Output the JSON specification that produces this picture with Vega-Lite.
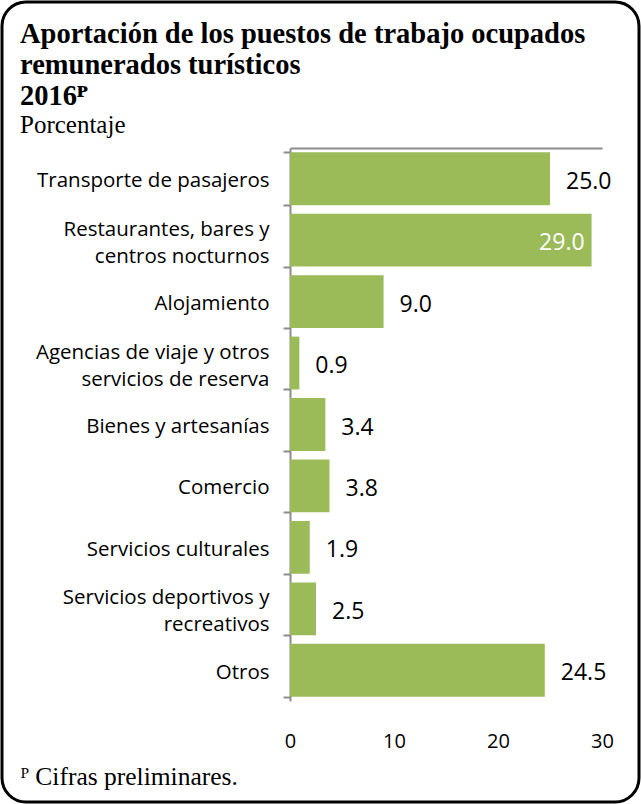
{
  "$schema": "https://vega.github.io/schema/vega-lite/v6.json",
  "width": 637,
  "height": 800,
  "padding": 2,
  "autosize": {"type": "none"},
  "background": "white",
  "title": {
    "text": ["Aportación de los puestos de trabajo ocupados", "remunerados turísticos", "2016ᴾ"],
    "subtitle": "Porcentaje",
    "anchor": "start",
    "frame": "group",
    "orient": "top",
    "offset": -146,
    "dx": 18,
    "font": "Liberation Serif",
    "fontSize": 28.5,
    "fontWeight": "bold",
    "lineHeight": 31,
    "color": "black",
    "subtitleFont": "Liberation Serif",
    "subtitleFontSize": 25,
    "subtitleColor": "black",
    "subtitlePadding": 3
  },
  "data": {
    "values": [
      {"cat": "Transporte de pasajeros", "value": 25.0},
      {"cat": "Restaurantes, bares y centros nocturnos", "value": 29.0},
      {"cat": "Alojamiento", "value": 9.0},
      {"cat": "Agencias de viaje y otros servicios de reserva", "value": 0.9},
      {"cat": "Bienes y artesanías", "value": 3.4},
      {"cat": "Comercio", "value": 3.8},
      {"cat": "Servicios culturales", "value": 1.9},
      {"cat": "Servicios deportivos y recreativos", "value": 2.5},
      {"cat": "Otros", "value": 24.5}
    ]
  },
  "encoding": {
    "y": {
      "field": "cat",
      "type": "nominal",
      "sort": null,
      "scale": {"range": [146, 699], "paddingInner": 0.14, "paddingOuter": 0.07},
      "axis": {
        "title": null,
        "offset": -288,
        "domainColor": "#8c8c8c",
        "domainWidth": 2,
        "tickBand": "extent",
        "tickColor": "#8c8c8c",
        "tickWidth": 2,
        "tickSize": 7,
        "labelPadding": 14,
        "labelFont": "Open Sans",
        "labelFontSize": 20.5,
        "labelColor": "black",
        "labelLineHeight": 27,
        "labelLimit": 300,
        "labelOffset": {"condition": {"test": "indexof(['Restaurantes, bares y centros nocturnos', 'Agencias de viaje y otros servicios de reserva', 'Servicios deportivos y recreativos'], datum.value) >= 0", "value": -11}, "value": 2},
        "labelExpr": "datum.value == 'Restaurantes, bares y centros nocturnos' ? ['Restaurantes, bares y', 'centros nocturnos'] : datum.value == 'Agencias de viaje y otros servicios de reserva' ? ['Agencias de viaje y otros', 'servicios de reserva'] : datum.value == 'Servicios deportivos y recreativos' ? ['Servicios deportivos y', 'recreativos'] : datum.value"
      }
    }
  },
  "layer": [
    {
      "mark": {"type": "bar", "color": "#9BBB59"},
      "encoding": {
        "x": {
          "field": "value",
          "type": "quantitative",
          "scale": {"domain": [0, 30], "range": [288, 600], "nice": false},
          "axis": {
            "orient": "bottom",
            "offset": -71,
            "values": [0, 10, 20, 30],
            "grid": false,
            "domain": false,
            "ticks": false,
            "labelPadding": 0,
            "labelBaseline": "top",
            "labelFont": "Open Sans",
            "labelFontSize": 20,
            "labelColor": "black",
            "labelFlush": false,
            "title": "ᴾ Cifras preliminares.",
            "titleFont": "Liberation Serif",
            "titleFontSize": 25.5,
            "titleFontWeight": "normal",
            "titleColor": "black",
            "titleAlign": "left",
            "titleAnchor": "start",
            "titleBaseline": "alphabetic",
            "titleX": 18,
            "titleY": 53
          }
        }
      }
    },
    {
      "transform": [{"filter": "datum.value < 28"}],
      "mark": {"type": "text", "align": "left", "baseline": "middle", "dx": 16, "dy": 3, "font": "Open Sans", "fontSize": 23, "color": "black"},
      "encoding": {
        "x": {"field": "value", "type": "quantitative", "axis": null},
        "text": {"field": "value", "type": "quantitative", "format": ".1f"}
      }
    },
    {
      "transform": [{"filter": "datum.value >= 28"}],
      "mark": {"type": "text", "align": "right", "baseline": "middle", "dx": -7, "dy": 3, "font": "Open Sans", "fontSize": 23, "color": "white"},
      "encoding": {
        "x": {"field": "value", "type": "quantitative", "axis": null},
        "text": {"field": "value", "type": "quantitative", "format": ".1f"}
      }
    },
    {
      "mark": {"type": "rule", "opacity": 0},
      "encoding": {
        "x": {"field": "value", "type": "quantitative", "axis": {"orient": "top", "offset": -146, "labels": false, "ticks": false, "grid": false, "domainColor": "#8c8c8c", "domainWidth": 2, "title": null}}
      }
    }
  ],
  "resolve": {"axis": {"x": "independent"}},
  "config": {
    "view": {"stroke": "black", "strokeWidth": 3, "cornerRadius": 24}
  }
}
